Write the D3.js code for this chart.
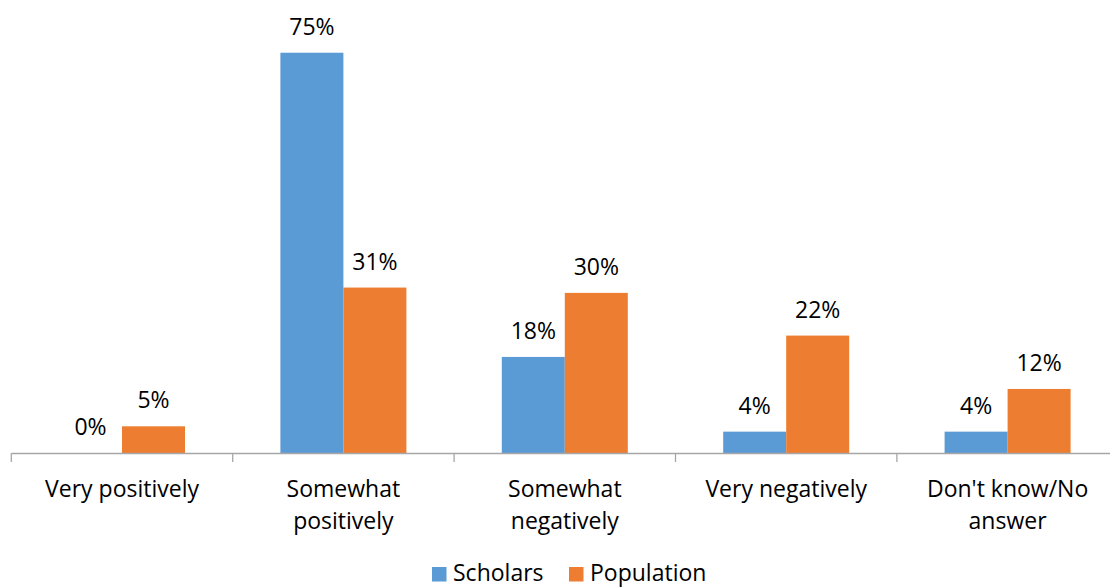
<!DOCTYPE html>
<html>
<head>
<meta charset="utf-8">
<script src="https://cdn.jsdelivr.net/npm/d3@7"></script>
<style>
  html, body { margin: 0; padding: 0; background: #fff; }
  svg { display: block; }
  text { font-family: "Open Sans", sans-serif; fill: #000; }
</style>
</head>
<body>
<svg id="chart" width="1110" height="587"></svg>
<script>
const categories = ["Very positively", "Somewhat positively", "Somewhat negatively", "Very negatively", "Don't know/No answer"];
const seriesNames = ["Scholars", "Population"];
const scholars = [0, 75, 18, 4, 4];
const population = [5, 31, 30, 22, 12];
const colors = ["#5B9BD5", "#ED7D31"];

const svg = d3.select("#chart");
const baseY = 453;
const fontSize = 23;

const x0 = d3.scaleBand().domain(categories).range([11.3, 1118.3]).padding(0);
const x1 = d3.scaleBand().domain(seriesNames).range([0, x0.bandwidth()]).paddingInner(0).paddingOuter(0.757);
const y = d3.scaleLinear().domain([0, 80]).range([baseY, baseY - 80 * 5.337]);

const data = categories.map((c, i) => ({ cat: c, vals: [scholars[i], population[i]] }));

// bars
const groups = svg.append("g").selectAll("g").data(data).join("g")
  .attr("transform", d => `translate(${x0(d.cat)},0)`);

groups.selectAll("rect").data(d => d.vals.map((v, j) => ({ s: seriesNames[j], v, j })))
  .join("rect")
  .attr("x", d => x1(d.s))
  .attr("width", x1.bandwidth())
  .attr("y", d => y(d.v))
  .attr("height", d => y(0) - y(d.v))
  .attr("fill", d => colors[d.j]);

groups.selectAll("text.val").data(d => d.vals.map((v, j) => ({ s: seriesNames[j], v, j })))
  .join("text")
  .attr("class", "val")
  .attr("x", d => x1(d.s) + x1.bandwidth() / 2)
  .attr("y", d => y(d.v) - 18)
  .attr("text-anchor", "middle")
  .style("font-size", fontSize + "px")
  .text(d => d.v + "%");

// axis
const axis = svg.append("g").attr("transform", `translate(0,${baseY})`)
  .call(d3.axisBottom(x0).tickSize(0).tickSizeOuter(0).tickFormat(""));
axis.select(".domain").attr("stroke", "#A6A6A6").attr("stroke-width", 1.3);
axis.selectAll(".tick").remove();

const tickPos = categories.map(c => x0(c)).concat([x0.range()[1]]);
svg.append("g").selectAll("line").data(tickPos).join("line")
  .attr("x1", d => d).attr("x2", d => d)
  .attr("y1", baseY).attr("y2", baseY + 9)
  .attr("stroke", "#A6A6A6").attr("stroke-width", 1.3);

// category labels with wrapping
const labelG = svg.append("g");
categories.forEach(c => {
  const cx = x0(c) + x0.bandwidth() / 2;
  const t = labelG.append("text")
    .attr("x", cx)
    .attr("y", 497)
    .attr("text-anchor", "middle")
    .style("font-size", fontSize + "px");
  const words = c.split(" ");
  let line = [];
  let tspan = t.append("tspan").attr("x", cx).attr("dy", 0);
  const maxW = x0.bandwidth() * 0.92;
  words.forEach(w => {
    line.push(w);
    tspan.text(line.join(" "));
    if (tspan.node().getComputedTextLength() > maxW && line.length > 1) {
      line.pop();
      tspan.text(line.join(" "));
      line = [w];
      tspan = t.append("tspan").attr("x", cx).attr("dy", 32).text(w);
    }
  });
});

// legend
const legend = svg.append("g");
const legendItems = [{ x: 432, name: seriesNames[0], color: colors[0] }, { x: 569, name: seriesNames[1], color: colors[1] }];
legendItems.forEach(li => {
  legend.append("rect").attr("x", li.x).attr("y", 567).attr("width", 14.5).attr("height", 14.5).attr("fill", li.color);
  legend.append("text").attr("x", li.x + 21).attr("y", 580.5).style("font-size", fontSize + "px").text(li.name);
});
</script>
</body>
</html>
